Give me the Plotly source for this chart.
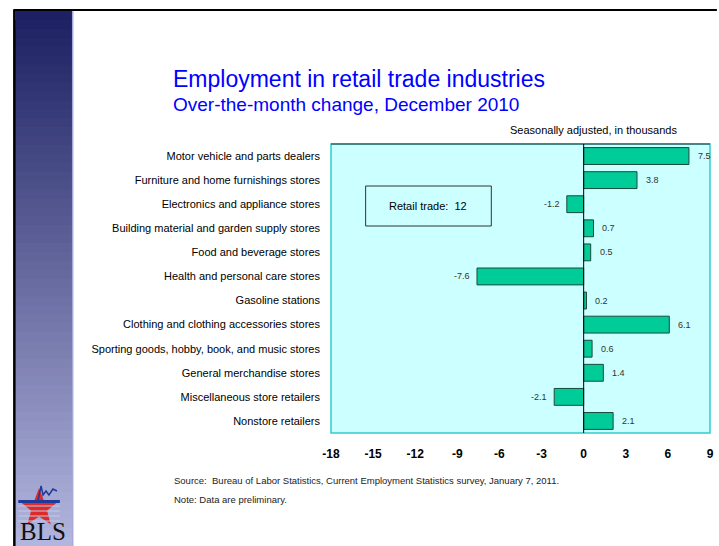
import math
import plotly.graph_objects as go

categories = [
    "Motor vehicle and parts dealers",
    "Furniture and home furnishings stores",
    "Electronics and appliance stores",
    "Building material and garden supply stores",
    "Food and beverage stores",
    "Health and personal care stores",
    "Gasoline stations",
    "Clothing and clothing accessories stores",
    "Sporting goods, hobby, book, and music stores",
    "General merchandise stores",
    "Miscellaneous store retailers",
    "Nonstore retailers",
]
values = [7.5, 3.8, -1.2, 0.7, 0.5, -7.6, 0.2, 6.1, 0.6, 1.4, -2.1, 2.1]
x_ticks = [-18, -15, -12, -9, -6, -3, 0, 3, 6, 9]
total_label = "Retail trade:  12"

W, H = 719, 546
L, R, T, B = 331, 714, 144, 433

fig = go.Figure()
fig.add_trace(go.Bar(
    x=values, y=categories, orientation="h",
    marker=dict(color="#00cc99", line=dict(color="#1a4a3a", width=1)),
    hoverinfo="x+y", showlegend=False,
))


def tp(p):
    return ((p[0] - L) / (R - L), (B - p[1]) / (B - T))


def fx(xp):
    return (xp - L) / (R - L)


def fy(yp):
    return (B - yp) / (B - T)


shapes = []
# left gradient stripe
n = 60
top_c = (0x1d, 0x20, 0x62)
bot_c = (0xb2, 0xb6, 0xde)
y0p, y1p = 11, H
for i in range(n):
    f = i / (n - 1)
    c = tuple(int(top_c[k] + (bot_c[k] - top_c[k]) * f) for k in range(3))
    ya = y0p + (y1p - y0p) * i / n
    shapes.append(dict(type="rect", xref="paper", yref="paper", layer="below",
                       x0=fx(12), x1=fx(70), y0=fy(ya), y1=fy(H + 2),
                       fillcolor="rgb(%d,%d,%d)" % c, line=dict(width=0)))
shapes.append(dict(type="line", xref="paper", yref="paper",
                   x0=fx(70), x1=fx(70), y0=fy(11), y1=fy(H + 2),
                   line=dict(color="#a9acd6", width=1.5)))
# black frame lines
shapes.append(dict(type="line", xref="paper", yref="paper",
                   x0=fx(10), x1=fx(W + 2), y0=fy(10), y1=fy(10),
                   line=dict(color="black", width=2)))
shapes.append(dict(type="line", xref="paper", yref="paper",
                   x0=fx(11), x1=fx(11), y0=fy(10), y1=fy(H + 2),
                   line=dict(color="black", width=2.5)))
# plot border
shapes.append(dict(type="rect", xref="paper", yref="paper", x0=0, x1=1, y0=0, y1=1,
                   line=dict(color="#33cccc", width=1.5), layer="above"))
shapes.append(dict(type="line", xref="paper", yref="paper", x0=0, x1=1, y0=1, y1=1,
                   line=dict(color="#3d6b6b", width=1.5), layer="above"))
# zero line
shapes.append(dict(type="line", xref="x", yref="paper", x0=0, x1=0, y0=0, y1=1,
                   line=dict(color="black", width=1), layer="above"))
# retail trade box
bx0, bx1, by0, by1 = 366, 493, 186, 226
shapes.append(dict(type="rect", xref="paper", yref="paper",
                   x0=fx(bx0), x1=fx(bx1), y0=fy(by0), y1=fy(by1),
                   line=dict(color="#333333", width=1), fillcolor="rgba(0,0,0,0)"))

# star logo
cx, cy, ro, ri = 36, 508, 20, 8.5
pts = []
for k in range(10):
    ang = math.pi / 2 + k * math.pi / 5
    r = ro if k % 2 == 0 else ri
    pts.append((cx + r * math.cos(ang), cy - r * math.sin(ang)))
path = "M " + " L ".join("%f,%f" % tp(p) for p in pts) + " Z"
shapes.append(dict(type="path", xref="paper", yref="paper", path=path,
                   fillcolor="#dd2a2a", line=dict(width=0)))
for yy in [506, 511, 516, 521]:
    shapes.append(dict(type="line", xref="paper", yref="paper",
                       x0=fx(cx - 21), x1=fx(cx + 21), y0=fy(yy), y1=fy(yy),
                       line=dict(color="#c4c7e4", width=1.2)))
shapes.append(dict(type="path", xref="paper", yref="paper",
                   path="M %f,%f L %f,%f L %f,%f L %f,%f Z" % (tp((15, 500)) + tp((57, 500)) + tp((57, 503)) + tp((15, 503))),
                   fillcolor="#1f3a9a", line=dict(width=0)))
zig = [(35, 500), (38, 486), (40, 495), (43, 491), (46, 495), (50, 489), (54, 491)]
shapes.append(dict(type="path", xref="paper", yref="paper",
                   path="M " + " L ".join("%f,%f" % tp(p) for p in zig),
                   line=dict(color="#1f3a9a", width=1.5)))

annotations = []
for cat, v in zip(categories, values):
    annotations.append(dict(x=v, y=cat, xref="x", yref="y", text=f"{v:g}",
                            showarrow=False, xanchor="left" if v >= 0 else "right",
                            xshift=7 if v >= 0 else -5,
                            font=dict(size=9, color="#333333", family="Liberation Sans")))


def ann(text, xp, yp, size, color, xanchor="left", family="Liberation Sans", yanchor="middle"):
    annotations.append(dict(text=text, xref="paper", yref="paper",
                            x=fx(xp), y=fy(yp),
                            xanchor=xanchor, yanchor=yanchor, showarrow=False,
                            font=dict(size=size, color=color, family=family)))


ann("Employment in retail trade industries", 169, 79, 23, "#0000ff")
ann("Over-the-month change, December 2010", 169, 104, 19, "#0000ff")
ann("Seasonally adjusted, in thousands", 683, 130, 11, "#000000", xanchor="right")
ann(total_label, (bx0 + bx1) / 2, (by0 + by1) / 2, 11, "#000000", xanchor="center")
ann("Source:  Bureau of Labor Statistics, Current Employment Statistics survey, January 7, 2011.",
    170, 481, 9.5, "#222222", family="Liberation Sans Narrow, Liberation Sans")
ann("Note: Data are preliminary.", 170, 499, 9.5, "#222222",
    family="Liberation Sans Narrow, Liberation Sans")
ann("BLS", 40, 547, 25, "#111111", xanchor="center", family="Liberation Serif", yanchor="bottom")

fig.update_layout(
    width=W, height=H,
    margin=dict(l=L, r=W - R, t=T, b=H - B, pad=0),
    paper_bgcolor="white", plot_bgcolor="#ccffff",
    bargap=0.3,
    shapes=shapes, annotations=annotations,
    font=dict(family="Liberation Sans", color="black"),
    xaxis=dict(range=[-18, 9], tickvals=x_ticks, ticktext=[str(t) for t in x_ticks],
               showgrid=False, zeroline=False, showline=False, ticks="",
               tickfont=dict(size=12, color="black", family="Liberation Sans", weight="bold"),
               ticklabelstandoff=12, fixedrange=True),
    yaxis=dict(autorange="reversed", showgrid=False, zeroline=False, showline=False,
               ticks="", tickfont=dict(size=11, color="black", family="Liberation Sans"),
               ticklabelstandoff=10, fixedrange=True),
)

fig.write_html("out.html", config={"displayModeBar": False},
               post_script="document.body.style.margin='0';document.body.style.overflow='hidden';")
